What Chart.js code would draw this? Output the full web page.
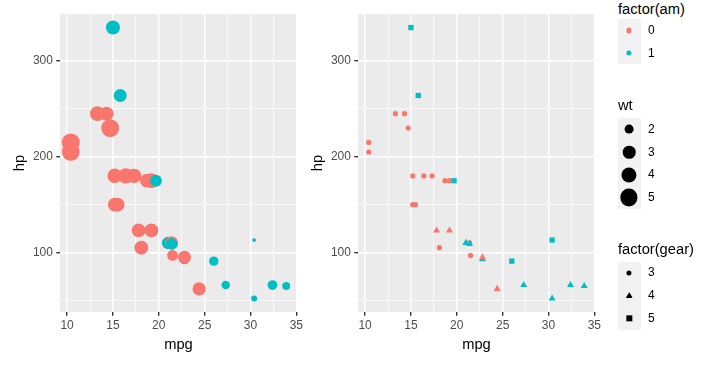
<!DOCTYPE html>
<html>
<head>
<meta charset="utf-8">
<script src="https://cdn.jsdelivr.net/npm/chart.js@4"></script>
<style>
  html, body { margin:0; padding:0; background:#fff; }
  body { width:716px; height:365px; position:relative; overflow:hidden; font-family:'Liberation Sans', Arial, sans-serif; }
  canvas { position:absolute; top:0; }
  .lg-title { position:absolute; left:618px; font-size:14.7px; line-height:15px; color:#000; white-space:nowrap; }
  .lg-keys  { position:absolute; left:618px; width:22.5px; background:#F2F2F2; }
  .lg-key   { position:relative; height:22.7px; }
  .lg-mark  { position:absolute; left:50%; top:50%; transform:translate(-50%,-50%); }
  .lg-label { position:absolute; left:648px; font-size:12px; line-height:12px; color:#000; }
</style>
</head>
<body>
<canvas id="p1" width="310" height="365" style="left:0;"></canvas>
<canvas id="p2" width="310" height="365" style="left:298px;"></canvas>
<div id="legend"></div>
<script>
// ── mtcars: mpg vs hp ─────────────────────────────────────────────
const mpg  = [21.0, 21.0, 22.8, 21.4, 18.7, 18.1, 14.3, 24.4, 22.8, 19.2, 17.8, 16.4, 17.3, 15.2, 10.4, 10.4,
              14.7, 32.4, 30.4, 33.9, 21.5, 15.5, 15.2, 13.3, 19.2, 27.3, 26.0, 30.4, 15.8, 19.7, 15.0, 21.4];
const hp   = [110, 110, 93, 110, 175, 105, 245, 62, 95, 123, 123, 180, 180, 180, 205, 215,
              230, 66, 52, 65, 97, 150, 150, 245, 175, 66, 91, 113, 264, 175, 335, 109];
const wt   = [2.620, 2.875, 2.320, 3.215, 3.440, 3.460, 3.570, 3.190, 3.150, 3.440, 3.440, 4.070, 3.730, 3.780, 5.250, 5.424,
              5.345, 2.200, 1.615, 1.835, 2.465, 3.520, 3.435, 3.840, 3.845, 1.935, 2.140, 1.513, 3.170, 2.770, 3.570, 2.780];
const am   = [1, 1, 1, 0, 0, 0, 0, 0, 0, 0, 0, 0, 0, 0, 0, 0,
              0, 1, 1, 1, 0, 0, 0, 0, 0, 1, 1, 1, 1, 1, 1, 1];
const gear = [4, 4, 4, 3, 3, 3, 3, 4, 4, 4, 4, 3, 3, 3, 3, 3,
              3, 4, 4, 4, 3, 3, 3, 3, 3, 4, 5, 5, 5, 5, 5, 4];

const xMajor = [10, 15, 20, 25, 30, 35];
const xMinor = [12.5, 17.5, 22.5, 27.5, 32.5];
const yMajor = [100, 200, 300];
const yMinor = [50, 150, 250];

const amLevels   = [0, 1];
const wtBreaks   = [2, 3, 4, 5];
const gearLevels = [3, 4, 5];

const AM_COLORS   = { 0: '#F8766D', 1: '#00BFC4' };
const GEAR_STYLES = { 3: 'circle', 4: 'triangle', 5: 'rect' };
const GEAR_RADIUS = { 3: 2.6, 4: 4.05, 5: 3.75 };

// ggplot-ish size scale: area ~ wt, range 1..6 mm
const wtMin = Math.min(...wt), wtMax = Math.max(...wt);
const wtRadius = w => {
  const size = 1 + 5 * Math.sqrt((w - wtMin) / (wtMax - wtMin));
  return 0.375 * (size * 2.845 + 0.94) * 96 / 72;
};

const expand = (arr, f = 0.05) => {
  const lo = Math.min(...arr), hi = Math.max(...arr), d = (hi - lo) * f;
  return [lo - d, hi + d];
};
const [xLo, xHi] = expand(mpg);
const [yLo, yHi] = expand(hp);

const points = mpg.map((x, i) => ({ x, y: hp[i] }));

const panelBg = {
  id: 'panelBg',
  beforeDraw(chart) {
    const { ctx, chartArea: a } = chart;
    ctx.save();
    ctx.fillStyle = '#EBEBEB';
    ctx.fillRect(a.left, a.top, a.right - a.left, a.bottom - a.top);
    ctx.restore();
  },
};

const FONT = "'Liberation Sans', Arial, sans-serif";

function axis(major, minor, lo, hi, title, isX) {
  const all = [...major, ...minor].sort((a, b) => a - b);
  return {
    type: 'linear',
    position: isX ? 'bottom' : 'left',
    min: lo, max: hi,
    afterBuildTicks: s => { s.ticks = all.map(v => ({ value: v })); },
    afterFit: s => { if (isX) s.height = 53; else s.width = 60; },
    border: { display: false },
    grid: {
      color: '#FFFFFF',
      lineWidth: c => major.includes(c.tick.value) ? 1.4 : 0.7,
      tickColor: c => major.includes(c.tick.value) ? '#333333' : 'rgba(0,0,0,0)',
      tickWidth: 1.4,
      tickLength: 3.7,
      drawTicks: true,
    },
    ticks: {
      autoSkip: false, maxRotation: 0,
      padding: isX ? 2.4 : 3.4,
      color: '#4D4D4D',
      font: { family: FONT, size: 12 },
      callback: v => major.includes(v) ? String(v) : '',
    },
    title: {
      display: true, text: title, color: '#000000',
      font: { family: FONT, size: 14.7 },
      padding: isX ? 11.2 : 10.7,
    },
  };
}

function makeChart(id, dataset) {
  return new Chart(document.getElementById(id), {
    type: 'scatter',
    data: { datasets: [dataset] },
    options: {
      responsive: false, animation: false, events: [],
      layout: { padding: { left: 0, top: 14, right: 13, bottom: 0 } },
      plugins: { legend: { display: false }, tooltip: { enabled: false } },
      scales: {
        x: axis(xMajor, xMinor, xLo, xHi, 'mpg', true),
        y: axis(yMajor, yMinor, yLo, yHi, 'hp', false),
      },
    },
    plugins: [panelBg],
  });
}

// left: colour = am, size = wt
makeChart('p1', {
  data: points, clip: false,
  pointStyle: 'circle',
  pointBackgroundColor: c => AM_COLORS[am[c.dataIndex]],
  pointBorderWidth: 0,
  pointRadius: c => wtRadius(wt[c.dataIndex]),
});

// right: colour = am, shape = gear
makeChart('p2', {
  data: points, clip: false,
  pointStyle: c => GEAR_STYLES[gear[c.dataIndex]],
  pointBackgroundColor: c => AM_COLORS[am[c.dataIndex]],
  pointBorderWidth: 0,
  pointRadius: c => GEAR_RADIUS[gear[c.dataIndex]],
});

// ── legends (html) ───────────────────────────────────────────────
function markHtml(shape, r, color) {
  if (shape === 'triangle') {
    const w = r * Math.sqrt(3), h = r * 1.5;
    return `<div class="lg-mark" style="width:${w}px;height:${h}px;background:${color};clip-path:polygon(50% 0,100% 100%,0 100%);transform:translate(-50%,-60%);"></div>`;
  }
  if (shape === 'rect') {
    const s = r * Math.SQRT2;
    return `<div class="lg-mark" style="width:${s}px;height:${s}px;background:${color};"></div>`;
  }
  return `<div class="lg-mark" style="width:${2*r}px;height:${2*r}px;border-radius:50%;background:${color};"></div>`;
}

function legendBlock(title, titleTop, keysTop, items) {
  const keyH = 22.7;
  let html = `<div class="lg-title" style="top:${titleTop}px;">${title}</div>`;
  html += `<div class="lg-keys" style="top:${keysTop}px;">` +
    items.map(it => `<div class="lg-key">${markHtml(it.shape, it.r, it.color)}</div>`).join('') + '</div>';
  items.forEach((it, i) => {
    html += `<div class="lg-label" style="top:${keysTop + keyH * i + keyH / 2 - 6.5}px;">${it.label}</div>`;
  });
  return html;
}

document.getElementById('legend').innerHTML =
  legendBlock('factor(am)', 1.5, 19,
    amLevels.map(a => ({ label: a, shape: 'circle', r: 2.6, color: AM_COLORS[a] }))) +
  legendBlock('wt', 97.5, 118,
    wtBreaks.map(w => ({ label: w, shape: 'circle', r: wtRadius(w), color: '#000' }))) +
  legendBlock('factor(gear)', 241.5, 261.5,
    gearLevels.map(g => ({ label: g, shape: GEAR_STYLES[g], r: GEAR_RADIUS[g], color: '#000' })));
</script>
</body>
</html>
